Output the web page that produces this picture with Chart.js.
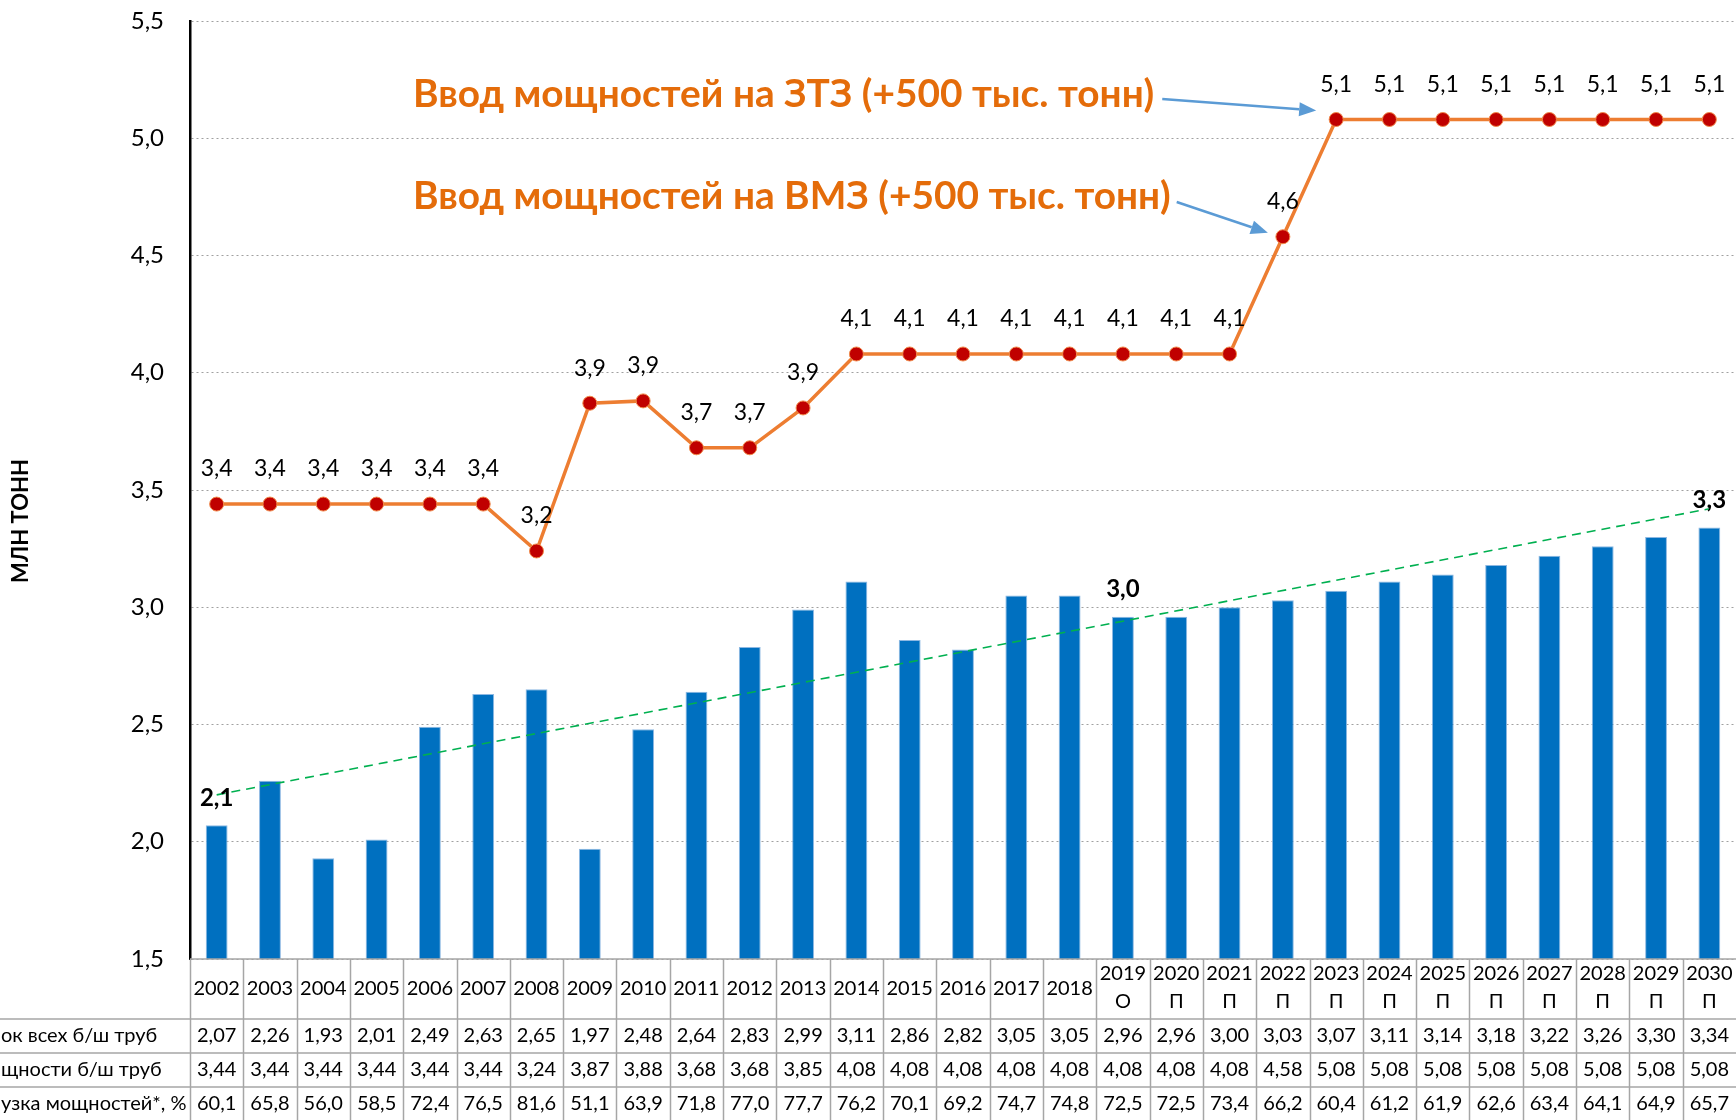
<!DOCTYPE html>
<html><head><meta charset="utf-8">
<script src="https://cdn.jsdelivr.net/npm/chart.js@4.4.1/dist/chart.umd.min.js"></script>
<style>html,body{margin:0;padding:0;background:#fff;}#wrap{width:1736px;height:1120px;position:relative;}canvas{display:block;}</style>
</head><body><div id="wrap"><canvas id="c" width="1736" height="1120"></canvas></div>
<script>
const years = ['2002','2003','2004','2005','2006','2007','2008','2009','2010','2011','2012','2013','2014','2015','2016','2017','2018','2019','2020','2021','2022','2023','2024','2025','2026','2027','2028','2029','2030'];
const yearNotes = ['','','','','','','','','','','','','','','','','','О','П','П','П','П','П','П','П','П','П','П','П'];
const pipeConsumption = [2.07,2.26,1.93,2.01,2.49,2.63,2.65,1.97,2.48,2.64,2.83,2.99,3.11,2.86,2.82,3.05,3.05,2.96,2.96,3.00,3.03,3.07,3.11,3.14,3.18,3.22,3.26,3.30,3.34];
const pipeCapacity = [3.44,3.44,3.44,3.44,3.44,3.44,3.24,3.87,3.88,3.68,3.68,3.85,4.08,4.08,4.08,4.08,4.08,4.08,4.08,4.08,4.58,5.08,5.08,5.08,5.08,5.08,5.08,5.08,5.08];
const capacityUtilisation = [60.1,65.8,56.0,58.5,72.4,76.5,81.6,51.1,63.9,71.8,77.0,77.7,76.2,70.1,69.2,74.7,74.8,72.5,72.5,73.4,66.2,60.4,61.2,61.9,62.6,63.4,64.1,64.9,65.7];
const trendStartValue = 2.20;
const trendEndValue = 3.42;
const rowLabels = ['ок всех б/ш труб','щности б/ш труб','узка мощностей*, %'];
const boldBarLabelYears = ['2002','2019','2030'];
const annotationTexts = ['Ввод мощностей на ЗТЗ (+500 тыс. тонн)','Ввод мощностей на ВМЗ (+500 тыс. тонн)'];
const annotationYears = ['2023','2022'];
const axisTitle = 'МЛН ТОНН';
const yMin = 1.5, yMax = 5.5, yStep = 0.5;

const fmt = (v, d) => v.toFixed(d).replace('.', ',');
const trendData = years.map((_, i) => i === 0 ? trendStartValue : (i === years.length - 1 ? trendEndValue : null));

function arrow(ctx, x1, y1, x2, y2) {
  const ang = Math.atan2(y2 - y1, x2 - x1);
  const L = 17, W = 7;
  const bx = x2 - L * Math.cos(ang), by = y2 - L * Math.sin(ang);
  ctx.save();
  ctx.strokeStyle = '#5B9BD5'; ctx.fillStyle = '#5B9BD5'; ctx.lineWidth = 2.5;
  ctx.beginPath(); ctx.moveTo(x1, y1); ctx.lineTo(bx, by); ctx.stroke();
  ctx.beginPath();
  ctx.moveTo(x2, y2);
  ctx.lineTo(bx + W * Math.sin(ang), by - W * Math.cos(ang));
  ctx.lineTo(bx - W * Math.sin(ang), by + W * Math.cos(ang));
  ctx.closePath(); ctx.fill();
  ctx.restore();
}

const overlay = {
  id: 'overlay',
  afterDraw(chart) {
    const ctx = chart.ctx;
    const xs = chart.scales.x, ca = chart.chartArea;
    const barMeta = chart.getDatasetMeta(0);
    const lineMeta = chart.getDatasetMeta(2);
    ctx.save();
    ctx.textAlign = 'center'; ctx.textBaseline = 'middle'; ctx.fillStyle = '#000';
    ctx.font = '23px Lato';
    lineMeta.data.forEach((pt, i) => { ctx.fillText(fmt(pipeCapacity[i], 1), pt.x, pt.y - 35); });
    ctx.font = 'bold 24px Lato';
    boldBarLabelYears.forEach(yr => {
      const i = years.indexOf(yr); const b = barMeta.data[i];
      ctx.fillText(fmt(pipeConsumption[i], 1), b.x, b.y - 27);
    });
    const half = (xs.getPixelForValue(1) - xs.getPixelForValue(0)) / 2;
    const top = ca.bottom;
    const hLines = [top + 60, top + 94, top + 128];
    ctx.strokeStyle = '#A6A6A6'; ctx.lineWidth = 1.5;
    ctx.beginPath(); ctx.moveTo(ca.left, top); ctx.lineTo(ca.right, top); ctx.stroke();
    hLines.forEach(y => { ctx.beginPath(); ctx.moveTo(0, y); ctx.lineTo(ca.right, y); ctx.stroke(); });
    years.forEach((_, i) => {
      const xl = xs.getPixelForValue(i) - half;
      ctx.beginPath(); ctx.moveTo(Math.round(xl) + 0.5, top); ctx.lineTo(Math.round(xl) + 0.5, 1120); ctx.stroke();
    });
    ctx.font = '20px Lato'; ctx.fillStyle = '#000';
    years.forEach((yr, i) => {
      const cx = xs.getPixelForValue(i);
      if (yearNotes[i]) {
        ctx.fillText(yr, cx, top + 15);
        ctx.fillText(yearNotes[i], cx, top + 43);
      } else {
        ctx.fillText(yr, cx, top + 30);
      }
      ctx.fillText(fmt(pipeConsumption[i], 2), cx, hLines[0] + 17);
      ctx.fillText(fmt(pipeCapacity[i], 2), cx, hLines[1] + 17);
      ctx.fillText(fmt(capacityUtilisation[i], 1), cx, hLines[2] + 17);
    });
    ctx.textAlign = 'left';
    rowLabels.forEach((t, r) => ctx.fillText(t, 1, hLines[r] + 17));
    ctx.save();
    ctx.translate(21, 521); ctx.rotate(-Math.PI / 2);
    ctx.textAlign = 'center'; ctx.font = 'bold 22px Lato';
    ctx.fillText(axisTitle, 0, 0);
    ctx.restore();
    ctx.font = 'bold 36px Lato';
    const w0 = ctx.measureText(annotationTexts[0]).width;
    const fs = 36 * 742 / w0;
    ctx.font = 'bold ' + fs.toFixed(1) + 'px Lato';
    ctx.fillStyle = '#E46C0A'; ctx.textAlign = 'left';
    ctx.fillText(annotationTexts[0], 413, 94);
    ctx.fillText(annotationTexts[1], 413, 196);
    const p1 = lineMeta.data[years.indexOf(annotationYears[0])];
    const p2 = lineMeta.data[years.indexOf(annotationYears[1])];
    const e0 = 413 + ctx.measureText(annotationTexts[0]).width;
    const e1 = 413 + ctx.measureText(annotationTexts[1]).width;
    arrow(ctx, e0 + 8, 99, p1.x - 20, p1.y - 9);
    arrow(ctx, e1 + 6, 202, p2.x - 15, p2.y - 4);
    ctx.restore();
  }
};

new Chart(document.getElementById('c'), {
  data: {
    labels: years,
    datasets: [
      { type: 'bar', data: pipeConsumption, backgroundColor: '#0070C0', borderColor: '#8DB8E2', borderWidth: 1, barPercentage: 0.41, categoryPercentage: 1, order: 3 },
      { type: 'line', data: trendData, borderColor: '#00B050', borderWidth: 1.6, borderDash: [9, 6], pointRadius: 0, spanGaps: true, fill: false, order: 2 },
      { type: 'line', data: pipeCapacity, borderColor: '#ED7D31', borderWidth: 3.5, pointRadius: 7, pointBackgroundColor: '#C00000', pointBorderColor: '#F08A4B', pointBorderWidth: 1, tension: 0, fill: false, order: 1 }
    ]
  },
  options: {
    responsive: false, animation: false, devicePixelRatio: 1,
    layout: { autoPadding: false, padding: { top: 21, bottom: 161, left: 0, right: 0 } },
    plugins: { legend: { display: false }, tooltip: { enabled: false } },
    scales: {
      x: { display: false, offset: true },
      y: {
        min: yMin, max: yMax,
        afterFit(s) { s.width = 190; s.paddingTop = 0; s.paddingBottom = 0; },
        border: { color: '#000', width: 2.5, dash: [2, 3] },
        grid: { color: '#A0A0A0', lineWidth: 1, drawTicks: false },
        ticks: { stepSize: yStep, padding: 26, color: '#000', font: { family: 'Lato', size: 24 }, callback: v => fmt(v, 1) }
      }
    }
  },
  plugins: [overlay]
});
</script></body></html>
